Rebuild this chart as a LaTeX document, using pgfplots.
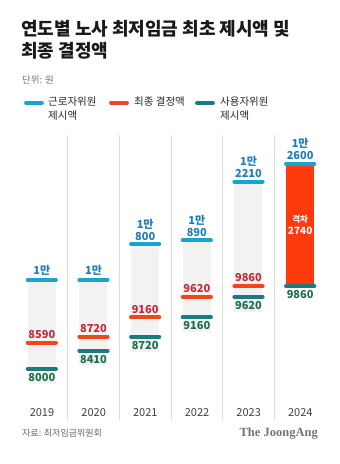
\documentclass[border=0pt]{standalone}
\usepackage{pgfplots}
\pgfplotsset{compat=1.18}
\usepackage{fontspec}
\setmainfont{Noto Sans CJK KR}
\newfontfamily\logofont{Liberation Serif}
\definecolor{cyanL}{HTML}{1AA3CF}
\definecolor{cyanT}{HTML}{1F7DB5}
\definecolor{redL}{HTML}{F0461E}
\definecolor{redT}{HTML}{C42A3A}
\definecolor{tealL}{HTML}{1C7A7C}
\definecolor{greenT}{HTML}{1E6E4A}
\definecolor{barred}{HTML}{FF3A0C}
\definecolor{bggray}{HTML}{F2F2F2}
\definecolor{sepgray}{HTML}{DDDDDD}
\begin{document}
\begin{tikzpicture}
\begin{scope}[x=1pt,y=-1pt]
\useasboundingbox (0,0) rectangle (340,464);
% title
\node[anchor=north west, inner sep=0, align=left, font=\fontsize{18}{22}\selectfont\bfseries, text=black!90] at (21,20) {연도별 노사 최저임금 최초 제시액 및\\최종 결정액};
\node[anchor=west, inner sep=0, font=\fontsize{9.5}{11}\selectfont, text=black!55] at (22,80) {단위: 원};
% legend
\draw[cyanL, line width=3.8pt, line cap=round] (26,103) -- (42,103);
\draw[redL, line width=3.8pt, line cap=round] (111,103) -- (127,103);
\draw[tealL, line width=3.8pt, line cap=round] (197,103) -- (213,103);
\node[anchor=north west, inner sep=0, align=left, font=\fontsize{10.5}{14}\selectfont, text=black!85] at (48,97) {근로자위원\\제시액};
\node[anchor=north west, inner sep=0, align=left, font=\fontsize{10.5}{14}\selectfont, text=black!85] at (134,97) {최종 결정액};
\node[anchor=north west, inner sep=0, align=left, font=\fontsize{10.5}{14}\selectfont, text=black!85] at (220,97) {사용자위원\\제시액};
% years
\foreach \x/\yr in {42/2019, 93.7/2020, 145.3/2021, 197/2022, 248.7/2023, 300.3/2024}
  \node[inner sep=0, font=\fontsize{11}{12}\selectfont, text=black!75] at (\x,413) {\yr};
\node[anchor=west, inner sep=0, font=\fontsize{9}{11}\selectfont, text=black!60] at (22,433) {자료: 최저임금위원회};
\node[anchor=east, inner sep=0, font=\fontsize{12.5}{14}\selectfont\logofont\bfseries, text=black!55] at (318,434) {The JoongAng};
\end{scope}
\begin{axis}[at={(16pt,-420pt)}, anchor=south west, width=310pt, height=285pt, scale only axis,
  xmin=-0.5, xmax=5.5, ymin=6854, ymax=13258,
  xtick={0.5,1.5,2.5,3.5,4.5}, xticklabels={}, ytick=\empty,
  xmajorgrids, grid style={sepgray, line width=0.7pt},
  axis line style={draw=none}, major tick length=0, clip=false]
% gray background ranges
\addplot[draw=bggray, line width=28pt, unbounded coords=jump] coordinates {
 (0,7670) (0,10000) (0,nan)
 (1,8080) (1,10000) (1,nan)
 (2,8390) (2,10800) (2,nan)
 (3,8830) (3,10890) (3,nan)
 (4,9290) (4,12210)};
% 2024 gap bar
\addplot[draw=barred, line width=28pt] coordinates {(5,9860) (5,12600)};
% employer
\addplot[only marks, mark=-, mark size=14.2pt, mark options={line width=3.8pt, line cap=round, draw=tealL}] coordinates {
 (0,8000) (1,8410) (2,8720) (3,9160) (4,9620) (5,9860)};
% final
\addplot[only marks, mark=-, mark size=14.2pt, mark options={line width=3.8pt, line cap=round, draw=redL}] coordinates {
 (0,8590) (1,8720) (2,9160) (3,9620) (4,9860)};
% labor
\addplot[only marks, mark=-, mark size=14.2pt, mark options={line width=3.8pt, line cap=round, draw=cyanL}] coordinates {
 (0,10000) (1,10000) (2,10800) (3,10890) (4,12210) (5,12600)};
% labels
\tikzset{lab/.style={inner sep=0, align=center, font=\fontsize{11}{12}\selectfont\bfseries}}
\node[lab, anchor=south, text=cyanT, yshift=4pt] at (axis cs:0,10000) {1만};
\node[lab, anchor=south, text=cyanT, yshift=4pt] at (axis cs:1,10000) {1만};
\node[lab, anchor=south, text=cyanT, yshift=4pt] at (axis cs:2,10800) {1만\\800};
\node[lab, anchor=south, text=cyanT, yshift=4pt] at (axis cs:3,10890) {1만\\890};
\node[lab, anchor=south, text=cyanT, yshift=4pt] at (axis cs:4,12210) {1만\\2210};
\node[lab, anchor=south, text=cyanT, yshift=4pt] at (axis cs:5,12600) {1만\\2600};
\node[lab, anchor=south, text=redT, yshift=4pt] at (axis cs:0,8590) {8590};
\node[lab, anchor=south, text=redT, yshift=4pt] at (axis cs:1,8720) {8720};
\node[lab, anchor=south, text=redT, yshift=4pt] at (axis cs:2,9160) {9160};
\node[lab, anchor=south, text=redT, yshift=4pt] at (axis cs:3,9620) {9620};
\node[lab, anchor=south, text=redT, yshift=4pt] at (axis cs:4,9860) {9860};
\node[lab, anchor=north, text=greenT, yshift=-4pt] at (axis cs:0,8000) {8000};
\node[lab, anchor=north, text=greenT, yshift=-4pt] at (axis cs:1,8410) {8410};
\node[lab, anchor=north, text=greenT, yshift=-4pt] at (axis cs:2,8720) {8720};
\node[lab, anchor=north, text=greenT, yshift=-4pt] at (axis cs:3,9160) {9160};
\node[lab, anchor=north, text=greenT, yshift=-4pt] at (axis cs:4,9620) {9620};
\node[lab, anchor=north, text=greenT, yshift=-4pt] at (axis cs:5,9860) {9860};
\node[inner sep=0, align=center, font=\bfseries, text=white] at (axis cs:5,11230) {{\fontsize{8.5}{12}\selectfont 격차}\\{\fontsize{10}{12}\selectfont 2740}};
\end{axis}
\end{tikzpicture}
\end{document}
